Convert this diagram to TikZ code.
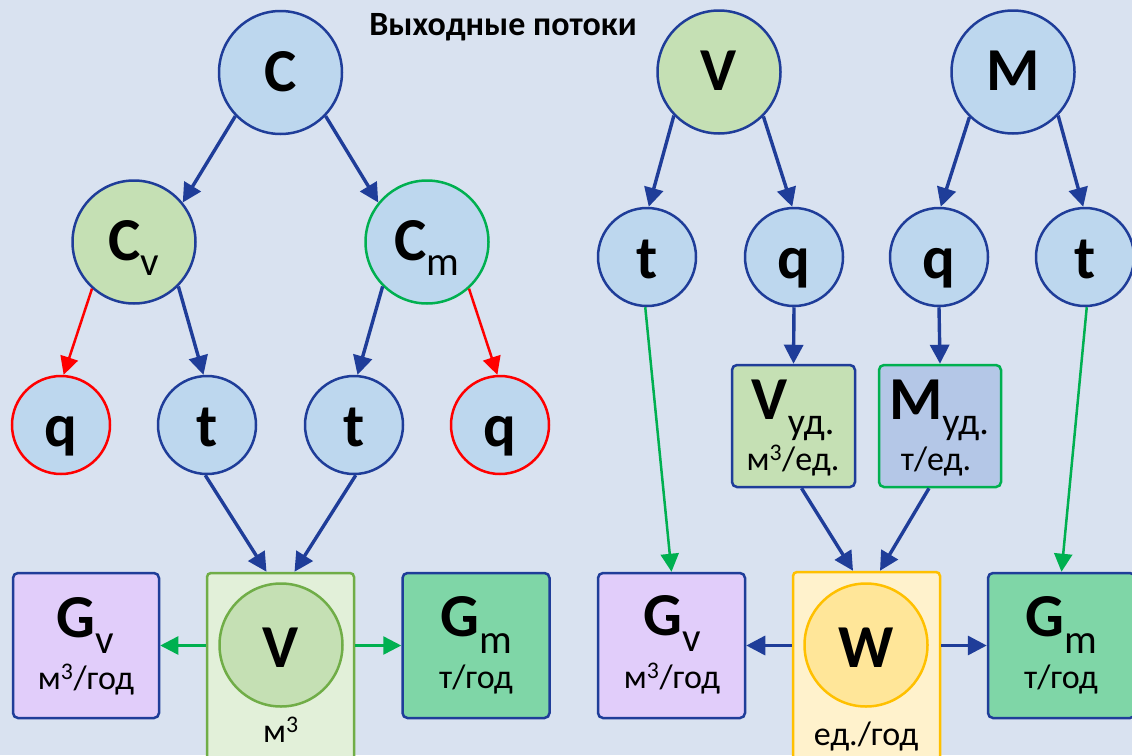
\documentclass[tikz,border=0pt]{standalone}
\usepackage{fontspec}
\setmainfont{Carlito}
\usetikzlibrary{arrows.meta,calc}
\definecolor{bgc}{HTML}{D9E2F0}
\definecolor{dblue}{HTML}{1F3D99}
\definecolor{cblue}{HTML}{BDD7EE}
\definecolor{cgreen}{HTML}{C5E0B4}
\definecolor{bgreen}{HTML}{00B050}
\definecolor{lgreen}{HTML}{70AD47}
\definecolor{boxgreen}{HTML}{E2F0D9}
\definecolor{gvfill}{HTML}{E1CDFA}
\definecolor{gmfill}{HTML}{7FD6A7}
\definecolor{mudfill}{HTML}{B4C7E7}
\definecolor{wbfill}{HTML}{FFF2CC}
\definecolor{wcfill}{HTML}{FFE699}
\definecolor{wborder}{HTML}{FFC000}
\newcommand\fBig{\fontsize{61}{63}\selectfont\bfseries}
\newcommand\fSub{\fontsize{41}{43}\selectfont\mdseries}
\newcommand\fSubS{\fontsize{38}{40}\selectfont\mdseries}
\newcommand\fUnit{\fontsize{34}{36}\selectfont\mdseries}
\begin{document}
\begin{tikzpicture}[x=1pt,y=-1pt,
  circ/.style={circle, draw=dblue, line width=2.5pt, fill=cblue, inner sep=0pt, font=\fBig, text depth=0pt},
  bigc/.style={circ, minimum size=123pt, text height=37pt},
  smc/.style={circ, minimum size=98pt, text height=42pt},
  inc/.style={circ, minimum size=123pt, text height=44pt},
  box/.style={rectangle, rounded corners=5pt, draw=dblue, line width=2.5pt, inner sep=0pt},
  lbl/.style={anchor=base, inner sep=0pt},
  barr/.style={draw=dblue, line width=3.4pt, -{Triangle[length=19pt,width=19pt]}},
  rarr/.style={draw=red, line width=2.5pt, -{Triangle[length=18pt,width=18pt]}},
  garr/.style={draw=bgreen, line width=2.5pt, -{Triangle[length=18pt,width=18pt]}}
]
\useasboundingbox (0,0) rectangle (1132,755);
\clip (0,0) rectangle (1132,755);
\fill[bgc] (0,0) rectangle (1132,755);

% title
\node[lbl, font=\fontsize{34}{36}\selectfont\bfseries] (title) at (503,35) {Выходные потоки};

% left tree
\node[bigc] (C) at (280.5,72.5) {C};
\node[bigc, fill=cgreen] (Cv) at (134,242) {C\raisebox{-15pt}{\fSub v}};
\node[bigc, draw=bgreen] (Cm) at (427,242) {C\raisebox{-15pt}{\fSub m}};
\node[smc, draw=red] (ql) at (61,425) {q};
\node[smc] (tl) at (207,425) {t};
\node[smc] (tr) at (354,425) {t};
\node[smc, draw=red] (qr) at (500,425) {q};

\node[box, fill=gvfill, minimum width=146pt, minimum height=145pt] (gvl) at (86,645.5) {};
\node[box, fill=gmfill, minimum width=147pt, minimum height=145pt] (gml) at (476,645.5) {};
\node[box, rounded corners=4pt, draw=lgreen, fill=boxgreen, minimum width=147pt, minimum height=230pt] (vbox) at (280.5,688) {};
\node[inc, draw=lgreen, fill=cgreen] (vin) at (281,645) {V};
\node[lbl, font=\fBig] (gvlt) at (85,637) {G\raisebox{-16pt}{\fSub v}};
\node[lbl, font=\fUnit] (gvlu) at (86,689) {м\textsuperscript{3}/год};
\node[lbl, font=\fBig] (gmlt) at (476.5,636) {G\raisebox{-17pt}{\fSub m}};
\node[lbl, font=\fUnit] (gmlu) at (476,688) {т/год};
\node[lbl, font=\fUnit] (vu) at (281,742) {м\textsuperscript{3}};

% right tree
\node[bigc, fill=cgreen] (V2) at (719,72) {V};
\node[bigc] (M) at (1013,72) {M};
\node[smc] (t1) at (647,257) {t};
\node[smc] (q1) at (794,257) {q};
\node[smc] (q2) at (939,257) {q};
\node[smc] (t2) at (1085,257) {t};

\node[box, fill=cgreen, minimum width=123pt, minimum height=122pt] (vud) at (793.5,426) {};
\node[box, draw=bgreen, fill=mudfill, minimum width=122pt, minimum height=122pt] (mud) at (940,426) {};
\node[lbl, font=\fBig] (vudt) at (793,419) {V\raisebox{-15pt}{\fSubS уд.}};
\node[lbl, font=\fUnit] (vudu) at (793,470) {м\textsuperscript{3}/ед.};
\node[lbl, font=\fBig] (mudt) at (939,419) {M\raisebox{-15pt}{\fSubS уд.}};
\node[lbl, font=\fUnit] (mudu) at (936,470) {т/ед.};

\node[box, fill=gvfill, minimum width=147pt, minimum height=145pt] (gvr) at (671.5,645.5) {};
\node[box, fill=gmfill, minimum width=147pt, minimum height=145pt] (gmr) at (1061.5,645.5) {};
\node[box, rounded corners=4pt, draw=wborder, fill=wbfill, minimum width=147pt, minimum height=230pt] (wbox) at (866.5,687) {};
\node[inc, draw=wborder, fill=wcfill] (win) at (866,645) {W};
\node[lbl, font=\fBig] (gvrt) at (672,635) {G\raisebox{-16pt}{\fSub v}};
\node[lbl, font=\fUnit] (gvru) at (672,688) {м\textsuperscript{3}/год};
\node[lbl, font=\fBig] (gmrt) at (1061,636) {G\raisebox{-17pt}{\fSub m}};
\node[lbl, font=\fUnit] (gmru) at (1061,688) {т/год};
\node[lbl, font=\fUnit] (wu) at (866,745) {ед./год};

% connectors left
\draw[barr] (C.224) -- (Cv.39);
\draw[barr] (C.-44) -- (Cm.141);
\draw[rarr] (Cv.228) -- (ql.87);
\draw[barr] (Cv.-45) -- (tl.94);
\draw[barr] (Cm.-135) -- (tr.86);
\draw[rarr] (Cm.-48) -- (qr.93);
\draw[barr] (tl.268) -- ([xshift=-14pt]vbox.north);
\draw[barr] (tr.272) -- ([xshift=14pt]vbox.north);
\draw[garr] (gvl.east -| vbox.west) -- (gvl.east);
\draw[garr] (gml.west -| vbox.east) -- (gml.west);

% connectors right
\draw[barr] (V2.224) -- (t1.88);
\draw[barr] (V2.-45) -- (q1.92);
\draw[barr] (M.226) -- (q2.88);
\draw[barr] (M.-44) -- (t2.92);
\draw[garr] (t1.268) -- (gvr.north);
\draw[barr] (q1.south) -- (vud.north);
\draw[barr] (q2.south) -- (mud.north);
\draw[garr] (t2.272) -- (gmr.north);
\draw[barr] ([xshift=8pt]vud.south) -- ([xshift=-13.5pt]wbox.north);
\draw[barr] ([xshift=-11pt]mud.south) -- ([xshift=13.5pt]wbox.north);
\draw[barr] (gvr.east -| wbox.west) -- (gvr.east);
\draw[barr] (gmr.west -| wbox.east) -- (gmr.west);
\end{tikzpicture}
\end{document}
